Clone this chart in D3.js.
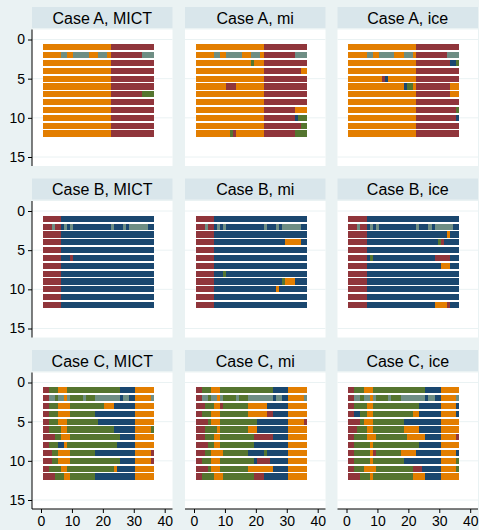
<!DOCTYPE html>
<html>
<head>
<meta charset="utf-8">
<script src="https://cdn.jsdelivr.net/npm/d3@7"></script>
<style>
  body { margin: 0; background: #eaf2f3; }
  text { font-family: "Liberation Sans", Arial, sans-serif; fill: #000; }
</style>
</head>
<body>
<script>
// state codes and their colours (Stata s2color)
var stateCodes = ["N", "M", "G", "O", "T"];
var stateColors = ["#1a476f", "#90353b", "#55752f", "#e37e00", "#6e8e84"];

var caseNames = ["Case A", "Case B", "Case C"];
var methodNames = ["MICT", "mi", "ice"];
var xTicks = [0, 10, 20, 30, 40];
var yTicks = [0, 5, 10, 15];

// each sequence: runs of "state + length", time 1..36
var caseA_MICT = [
  "O22 M14", "O6 T2 O2 T5 O3 T3 O1 M10 T4", "O22 M14", "O22 M14", "O22 M14", "O22 M14",
  "O22 M10 G4", "O22 M14", "O22 M14", "O22 M14", "O22 M14", "O22 M14"
];
var caseA_mi = [
  "O22 M14", "O6 T2 O2 T5 O3 T3 O1 M10 T4", "O18 G1 O3 M14", "O22 M12 O2", "O22 M14", "O10 M3 O9 M14",
  "O22 M14", "O22 M14", "O22 M10 O4", "O22 M10 N1 G3", "O22 M12 G2", "O11 G1 M1 O9 M10 G4"
];
var caseA_ice = [
  "O22 M14", "O6 T2 O2 T5 O3 T3 O1 M10 T4", "O22 M11 N2 G1", "O22 M14", "O11 M1 N1 O9 M14", "O18 N1 G2 O1 M11 O3",
  "O22 M11 O3", "O22 M14", "O22 M13 G1", "O22 M13 N1", "O22 M14", "O22 M14"
];
var caseB_MICT = [
  "M6 N30", "M3 T1 M2 N1 T1 N1 T1 N12 T1 N3 T1 N1 T6 N2", "M6 N30", "M6 N30", "M6 N30", "M6 N3 M1 N26",
  "M6 N30", "M6 N30", "M6 N30", "M6 N30", "M6 N30", "M6 N30"
];
var caseB_mi = [
  "M6 N30", "M3 T1 M2 N1 T1 N1 T1 N12 T1 N3 T1 N1 T6 N2", "M6 N30", "M6 N23 O5 N2", "M6 N30", "M6 N30",
  "M6 N30", "M6 N3 G1 N26", "M6 N22 G1 O3 N4", "M6 N20 O1 N9", "M6 N30", "M6 N30"
];
var caseB_ice = [
  "M6 N30", "M3 T1 M2 N1 T1 N1 T1 N12 T1 N3 T1 N1 T6 N2", "M6 N26 O1 N3", "M6 N23 G1 M1 N5", "M6 N30", "M6 N1 G1 N20 M5 N3",
  "M6 N24 O3 N3", "M6 N30", "M6 N30", "M6 N30", "M6 N30", "M6 N22 O4 M1 N3"
];
var caseC_MICT = [
  "M2 G3 O3 G17 N5 O6",
  "M2 T2 G1 T2 O1 T1 G4 T1 G3 T8 N1 T2 N2 O5 T1",
  "M2 G3 O4 G11 O3 N7 O6",
  "M2 G3 O4 G8 N13 O6",
  "M2 G3 O3 G10 N12 O6",
  "M2 G4 O2 G15 N7 O5 G1",
  "M4 G2 O3 G16 N5 O6",
  "M2 G3 N2 O1 G16 N6 O6",
  "M3 G2 O4 G8 N13 O5 M1",
  "M3 G2 O4 G16 N5 O5 M1",
  "M2 G4 O2 G15 O1 N6 O6",
  "M4 G3 O2 G8 N13 O6"
];
var caseC_mi = [
  "M2 G3 O3 G17 N5 O6",
  "M2 T2 G1 T2 O1 T1 G4 T1 G3 T8 N1 T2 N2 O5 T1",
  "M3 G3 O2 M1 G8 O6 N7 O6",
  "M2 G3 O3 G9 O6 M2 N5 O6",
  "M4 G1 O3 G12 N10 O5 M1",
  "M3 G4 O1 G9 O3 N10 O6",
  "M3 G3 O2 G11 M6 N5 O6",
  "M4 G2 O2 G11 N11 O6",
  "M3 G2 O4 G8 N5 G1 N7 O6",
  "M2 G3 O3 G11 N1 M4 N6 O6",
  "M4 G1 O3 G9 O8 N5 O6",
  "M2 G4 O3 G10 M3 N8 O6"
];
var caseC_ice = [
  "M2 G3 O3 G17 N5 O6",
  "M2 T2 G1 T2 O1 T1 G4 T1 G3 T8 N1 T2 N2 O5 T1",
  "M2 G4 O2 G15 N7 O5 N1",
  "M2 N2 G2 O2 G13 O2 N7 O5 N1",
  "M4 G1 O3 G10 N12 O6",
  "M3 G3 O2 G10 O5 N7 O6",
  "M2 G4 O3 G10 O6 N5 O5 M1",
  "M2 G5 O1 G15 N7 O6",
  "M2 G5 O1 M1 G8 O5 N8 O5 N1",
  "M2 G5 O1 G10 N12 O5 G1",
  "M2 G3 O4 G12 M3 N6 O5 G1",
  "M4 G3 O1 G13 O4 N5 O6"
];

var panelData = [
  [caseA_MICT, caseA_mi, caseA_ice],
  [caseB_MICT, caseB_mi, caseB_ice],
  [caseC_MICT, caseC_mi, caseC_ice]
];

// layout
var width = 479, height = 530;
var colLeft = [32, 185, 337.5];
var plotW = 140.5;
var rowTop = [7, 178.5, 350];
var stripH = 21;
var plotOffset = 22.5;
var plotH = 136.5;

var color = d3.scaleOrdinal().domain(stateCodes).range(stateColors);

var svg = d3.select("body")
  .append("svg")
  .attr("width", width)
  .attr("height", height);

svg.append("rect")
  .attr("width", width)
  .attr("height", height)
  .attr("fill", "#eaf2f3");

// turn "O22 M14" into [{state, start, end}]
function parseRuns(str) {
  var t = 1;
  return str.split(" ").map(function(tok) {
    var len = +tok.slice(1);
    var run = { state: tok[0], start: t, end: t + len };
    t += len;
    return run;
  });
}

panelData.forEach(function(rowPanels, r) {
  rowPanels.forEach(function(seqs, c) {
    var left = colLeft[c];
    var top = rowTop[r] + plotOffset;

    var xScale = d3.scaleLinear().domain([0, 40]).range([left + 9, left + 9 + 123.7]);
    var yScale = d3.scaleLinear().domain([0, 15]).range([top + 10, top + 10 + 117.5]);

    var g = svg.append("g");

    // header strip
    g.append("rect")
      .attr("x", left)
      .attr("y", rowTop[r])
      .attr("width", plotW)
      .attr("height", stripH)
      .attr("fill", "#d9e6eb");

    g.append("text")
      .attr("x", left + plotW / 2)
      .attr("y", rowTop[r] + 16.5)
      .attr("text-anchor", "middle")
      .attr("font-size", "16px")
      .text(caseNames[r] + ", " + methodNames[c]);

    // plot region
    g.append("rect")
      .attr("x", left)
      .attr("y", top)
      .attr("width", plotW)
      .attr("height", plotH)
      .attr("fill", "#fff");

    // grid lines
    g.selectAll(".grid")
      .data(yTicks)
      .enter()
      .append("line")
      .attr("x1", left)
      .attr("x2", left + plotW)
      .attr("y1", d => yScale(d))
      .attr("y2", d => yScale(d))
      .attr("stroke", "#eaf2f3")
      .attr("stroke-width", 1);

    // sequence bars
    var barH = yScale(0.78) - yScale(0);
    seqs.forEach(function(seq, i) {
      var rowY = yScale(i + 1);
      g.selectAll(null)
        .data(parseRuns(seq))
        .enter()
        .append("rect")
        .attr("x", d => xScale(d.start - 0.5))
        .attr("width", d => xScale(d.end - 0.5) - xScale(d.start - 0.5))
        .attr("y", rowY - barH / 2)
        .attr("height", barH)
        .attr("fill", d => color(d.state))
        .attr("shape-rendering", "crispEdges");
    });

    // y axis on first column
    if (c === 0) {
      var leftAxis = d3.axisLeft(yScale)
        .tickValues(yTicks)
        .tickSize(4)
        .tickPadding(3);
      var ya = g.append("g")
        .attr("transform", `translate(${left}, 0)`)
        .call(leftAxis);
      ya.select(".domain")
        .attr("d", `M0,${top}V${top + plotH}`);
      ya.selectAll("text").attr("font-size", "14px").style("font-family", "Liberation Sans, Arial, sans-serif");
    }

    // x axis on bottom row
    if (r === 2) {
      var bottomAxis = d3.axisBottom(xScale)
        .tickValues(xTicks)
        .tickSize(4)
        .tickPadding(3);
      var xa = g.append("g")
        .attr("transform", `translate(0, ${top + plotH})`)
        .call(bottomAxis);
      xa.select(".domain")
        .attr("d", `M${left},0H${left + plotW}`);
      xa.selectAll("text").attr("font-size", "14px").style("font-family", "Liberation Sans, Arial, sans-serif");
    }
  });
});
</script>
</body>
</html>
